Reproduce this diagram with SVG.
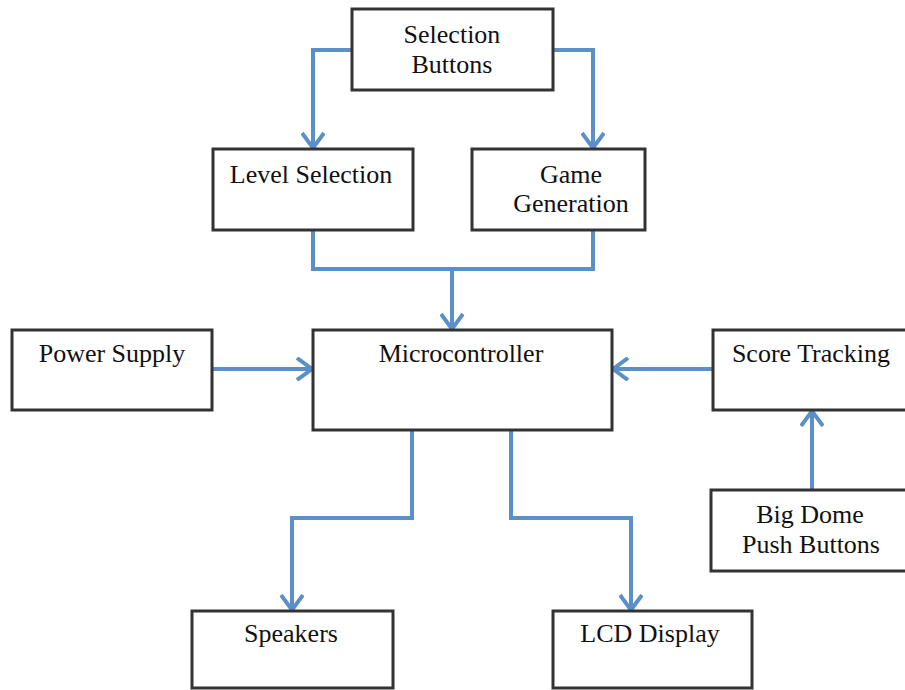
<svg xmlns="http://www.w3.org/2000/svg" width="905" height="690" viewBox="0 0 905 690">
<style>
.box{fill:#fff;stroke:#333;stroke-width:3}
.t{font-family:"Liberation Serif","Times New Roman",serif;font-size:26px;fill:#111;text-anchor:middle}
.c{fill:none;stroke:#5a8fc9;stroke-width:4;stroke-linejoin:miter}
</style>
<defs>
<marker id="ah" viewBox="0 0 18 24" refX="16" refY="12" markerWidth="18" markerHeight="24" markerUnits="userSpaceOnUse" orient="auto">
<path d="M1,1 L16,12 L1,23" fill="none" stroke="#5a8fc9" stroke-width="4"/>
</marker>
</defs>
<rect width="905" height="690" fill="#fff"/>
<g id="connectors">
<path class="c" d="M352,50 H313 V148" marker-end="url(#ah)"/>
<path class="c" d="M553,50 H593 V148" marker-end="url(#ah)"/>
<path class="c" d="M313,230 V269 H593 V230"/>
<path class="c" d="M452,269 V329" marker-end="url(#ah)"/>
<path class="c" d="M212,369 H312" marker-end="url(#ah)"/>
<path class="c" d="M713,369 H613" marker-end="url(#ah)"/>
<path class="c" d="M412,430 V518 H292 V610" marker-end="url(#ah)"/>
<path class="c" d="M511,430 V518 H631 V610" marker-end="url(#ah)"/>
<path class="c" d="M812,490 V411" marker-end="url(#ah)"/>
</g>
<g id="selection-buttons"><rect class="box" x="352" y="9" width="201" height="81"/><text class="t" x="452" y="43">Selection</text><text class="t" x="452" y="73">Buttons</text></g>
<g id="level-selection"><rect class="box" x="213" y="149" width="200" height="81"/><text class="t" x="311" y="183">Level Selection</text></g>
<g id="game-generation"><rect class="box" x="472" y="149" width="173" height="81"/><text class="t" x="571" y="183">Game</text><text class="t" x="571" y="212">Generation</text></g>
<g id="power-supply"><rect class="box" x="12" y="330" width="200" height="80"/><text class="t" x="112" y="362">Power Supply</text></g>
<g id="microcontroller"><rect class="box" x="313" y="330" width="299" height="100"/><text class="t" x="461" y="362">Microcontroller</text></g>
<g id="score-tracking"><rect class="box" x="713" y="330" width="200" height="80"/><text class="t" x="811" y="362">Score Tracking</text></g>
<g id="big-dome"><rect class="box" x="711" y="490" width="200" height="81"/><text class="t" x="810" y="523">Big Dome</text><text class="t" x="811" y="553">Push Buttons</text></g>
<g id="speakers"><rect class="box" x="192" y="611" width="201" height="77"/><text class="t" x="291" y="642">Speakers</text></g>
<g id="lcd-display"><rect class="box" x="553" y="611" width="199" height="77"/><text class="t" x="650" y="642">LCD Display</text></g>
</svg>
